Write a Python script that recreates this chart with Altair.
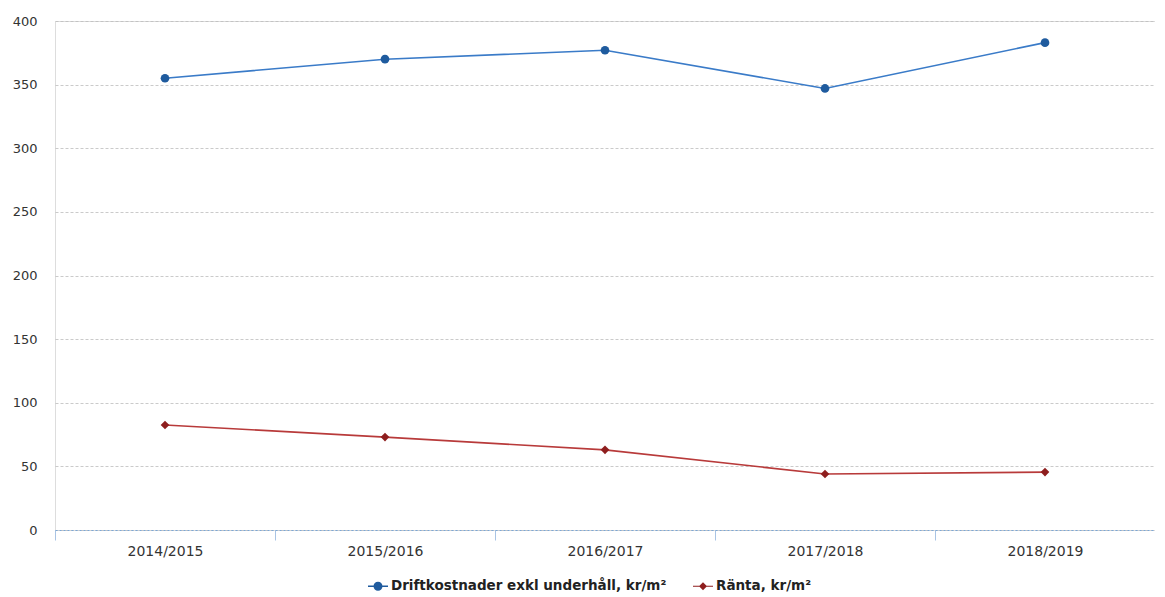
import altair as alt
import pandas as pd

years = ["2014/2015", "2015/2016", "2016/2017", "2017/2018", "2018/2019"]
drift = [355, 370, 377, 347, 383]
ranta = [82.5, 73, 63, 44, 45.5]
series_names = ["Driftkostnader exkl underhåll, kr/m²", "Ränta, kr/m²"]
line_colors = ["#3A7BC8", "#B83A3A"]
point_colors = ["#1F5B9E", "#8E1E1E"]

rows = []
for y, v in zip(years, drift):
    rows.append({"year": y, "value": v, "series": series_names[0]})
for y, v in zip(years, ranta):
    rows.append({"year": y, "value": v, "series": series_names[1]})
df = pd.DataFrame(rows)
df["series_line"] = df["series"]
df["series_pt"] = df["series"]

# legend symbols: short line with marker (unit-square SVG paths)
legend_paths = [
    "M-1,-0.07L1,-0.07L1,0.07L-1,0.07Z M-0.45,0A0.45,0.45 0 1,1 0.45,0A0.45,0.45 0 1,1 -0.45,0Z",
    "M-1,-0.06L1,-0.06L1,0.06L-1,0.06Z M0,-0.4L0.4,0L0,0.4L-0.4,0Z",
]

x = alt.X("year:N", sort=years, title=None,
          scale=alt.Scale(paddingInner=0, paddingOuter=0),
          axis=alt.Axis(labelAngle=0, tickBand="extent", domainColor="#7BA7D6",
                        domainDash=[2, 2], tickColor="#A9C4E4",
                        tickSize=10, tickWidth=1, labelPadding=4, labelFontSize=14,
                        labelColor="#333333", grid=False))
y = alt.Y("value:Q", title=None,
          scale=alt.Scale(domain=[0, 400], nice=False),
          axis=alt.Axis(values=[0, 50, 100, 150, 200, 250, 300, 350, 400],
                        domain=False, ticks=False, labelPadding=18,
                        labelFontSize=13, labelColor="#333333",
                        grid=True, gridColor="#BDBDBD", gridDash=[3, 2],
                        gridWidth=0.8))

lines = alt.Chart(df).mark_line(strokeWidth=1.6).encode(
    x=x, y=y,
    color=alt.Color("series_line:N", scale=alt.Scale(domain=series_names, range=line_colors), legend=None),
)
points = alt.Chart(df).mark_point(filled=True, opacity=1, size=75).encode(
    x=x, y=y,
    color=alt.Color("series_pt:N", scale=alt.Scale(domain=series_names, range=point_colors), legend=None),
    shape=alt.Shape("series_pt:N", scale=alt.Scale(domain=series_names, range=["circle", "diamond"]), legend=None),
)
legend_layer = alt.Chart(df).mark_point(filled=True, size=0, opacity=1).encode(
    x=x, y=y,
    color=alt.Color("series:N", scale=alt.Scale(domain=series_names, range=point_colors),
                    legend=alt.Legend(orient="none", legendX=313, legendY=555,
                                      direction="horizontal", title=None,
                                      labelFontSize=13.5, labelFontWeight="bold",
                                      labelColor="#222222", symbolSize=400,
                                      symbolOpacity=1, symbolStrokeWidth=0,
                                      columnPadding=26, labelOffset=3,
                                      labelLimit=400)),
    shape=alt.Shape("series:N", scale=alt.Scale(domain=series_names, range=legend_paths)),
)

chart = alt.layer(lines, points, legend_layer).resolve_scale(
    color="independent", shape="independent"
).properties(
    width=1100, height=509,
    padding={"left": 47, "top": 13, "right": 0, "bottom": 66},
    autosize=alt.AutoSizeParams(type="none"),
).configure_view(stroke=None).configure(font="DejaVu Sans")

chart.save("out.html", embed_options={"renderer": "svg", "actions": False})
